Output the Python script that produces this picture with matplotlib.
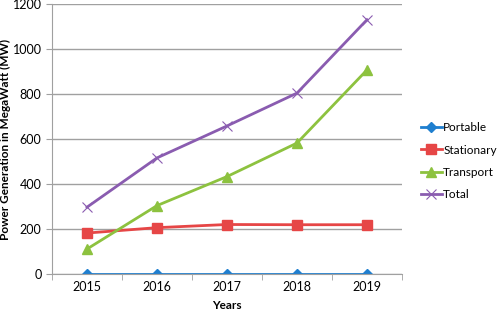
import numpy as np
import matplotlib
matplotlib.use('Agg')
import matplotlib.pyplot as plt

plt.rcParams['font.family'] = ['Lato', 'DejaVu Sans']

# Data
years = ['2015', '2016', '2017', '2018', '2019']
portable = [1, 1, 1, 1, 1]
stationary = [182, 206, 220, 219, 219]
transport = [111, 304, 433, 582, 907]
total = [297, 516, 658, 804, 1130]

x = np.arange(len(years))

fig = plt.figure(figsize=(4.98, 3.13), dpi=100)
ax = fig.add_axes([0.1044, 0.1246, 0.7028, 0.8626])

ax.plot(x, portable, color='#1f7fcf', lw=2, marker='D', ms=5, label='Portable')
ax.plot(x, stationary, color='#e64646', lw=2, marker='s', ms=7, label='Stationary')
ax.plot(x, transport, color='#8dc23f', lw=2, marker='^', ms=7, label='Transport')
ax.plot(x, total, color='#8a5cb0', lw=2, marker='x', ms=7, mew=0.8, label='Total')

ax.set_xlim(-0.5, 4.5)
ax.set_ylim(0, 1200)
ax.set_yticks(np.arange(0, 1201, 200))
ax.set_xticks(x)
ax.set_xticklabels(years)
ax.set_xticks(np.arange(-0.5, 4.6, 1), minor=True)
ax.tick_params(axis='x', which='major', length=0, labelsize=9, pad=5)
ax.tick_params(axis='x', which='minor', length=4, color='#a0a0a0')
ax.tick_params(axis='y', length=4, color='#a0a0a0', labelsize=9)
ax.yaxis.grid(True, color='#a0a0a0', lw=1)
ax.set_axisbelow(True)
for s in ['top', 'right']:
    ax.spines[s].set_visible(False)
ax.spines['left'].set_color('#a0a0a0')
ax.spines['bottom'].set_color('#a0a0a0')

ax.set_xlabel('Years', fontsize=8.5, fontweight='bold', labelpad=5)
ax.set_ylabel('Power Generation in MegaWatt (MW)', fontsize=8.5, fontweight='bold')
ax.yaxis.set_label_coords(-0.118, 0.5)

ax.legend(loc='center left', bbox_to_anchor=(1.03, 0.418), frameon=False,
          fontsize=8.5, handlelength=1.8, handletextpad=0.1, labelspacing=0.95,
          borderpad=0.2)

fig.savefig('out.png', dpi=100)
